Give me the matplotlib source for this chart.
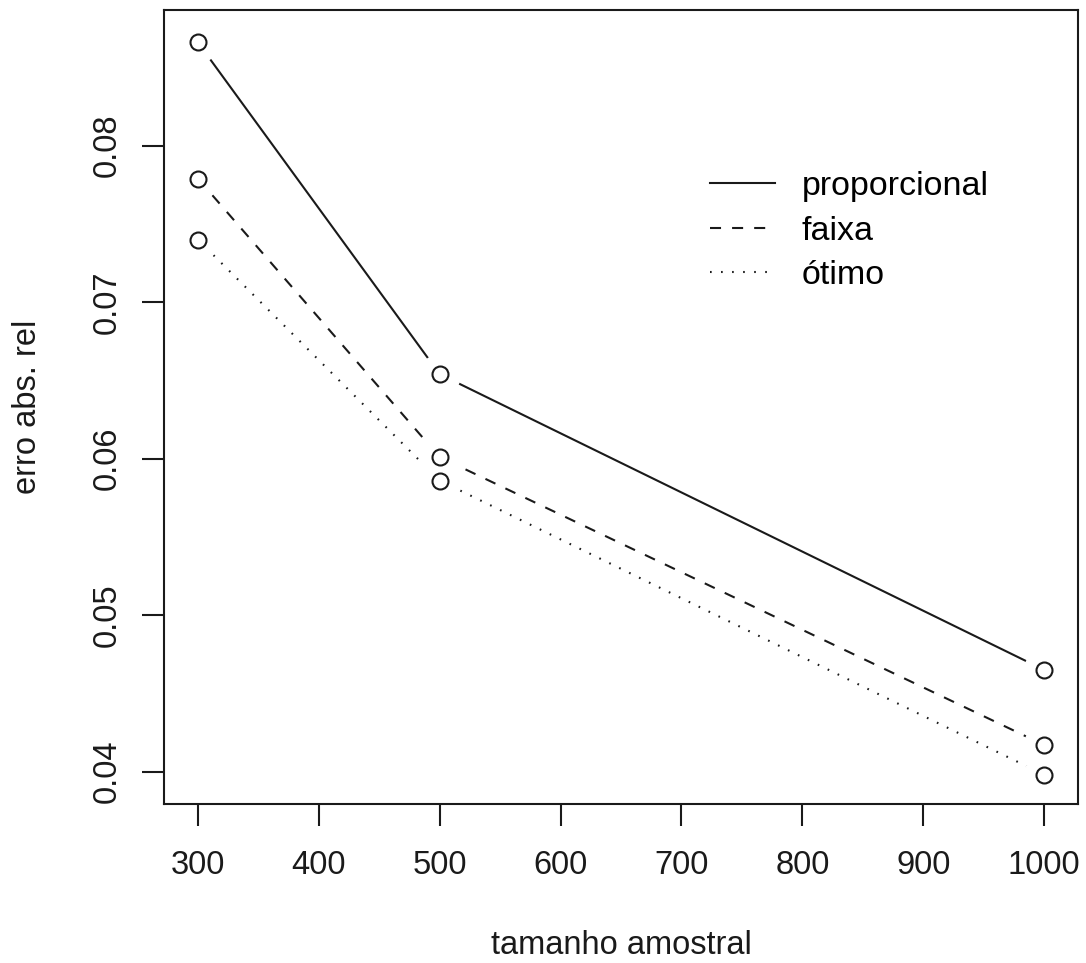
import matplotlib
matplotlib.use("Agg")
import matplotlib.pyplot as plt

plt.rcParams['font.family'] = ['Liberation Sans', 'DejaVu Sans']

tamanho = [300, 500, 1000]
proporcional = [0.0866, 0.0654, 0.0465]
faixa = [0.0779, 0.0601, 0.0417]
otimo = [0.0740, 0.0586, 0.0398]
series = [("proporcional", proporcional, "-"),
          ("faixa", faixa, (0, (5.3, 5.3))),
          ("ótimo", otimo, (0, (0.8, 4.5)))]
xticks = [300, 400, 500, 600, 700, 800, 900, 1000]
yticks = [0.04, 0.05, 0.06, 0.07, 0.08]

fig = plt.figure(figsize=(10.86, 9.63), dpi=100)
ax = fig.add_axes([164/1086, 1-804/963, (1078-164)/1086, (804-10)/963])

lw = 1.5
col = '#1a1a1a'
handles = []
for name, vals, ls in series:
    h, = ax.plot(tamanho, vals, color=col, lw=lw, linestyle=ls, label=name, zorder=2)
    handles.append(h)
for name, vals, ls in series:
    ax.plot(tamanho, vals, linestyle='none', marker='o', ms=29, mfc='white', mec='white', zorder=3)
for name, vals, ls in series:
    ax.plot(tamanho, vals, linestyle='none', marker='o', ms=11.5, mfc='none', mec=col, mew=1.5, zorder=4)

ax.set_xlim(272, 1028)
ax.set_ylim(0.03793, 0.08867)
ax.set_xticks(xticks)
ax.set_xticklabels([str(t) for t in xticks])
ax.set_yticks(yticks)
ax.set_yticklabels([f"{t:.2f}" for t in yticks], rotation=90, va='center')
ax.tick_params(axis='both', length=16, width=lw, colors=col, labelsize=23.5, direction='out')
ax.tick_params(axis='x', pad=17)
ax.tick_params(axis='y', pad=14)
for s in ax.spines.values():
    s.set_linewidth(lw)
    s.set_color(col)

fig.text(621/1086, 1-945/963, "tamanho amostral", ha='center', va='center', fontsize=23.5, color=col)
fig.text(28/1086, 1-407/963, "erro abs. rel", ha='center', va='center', rotation=90, fontsize=23.5, color=col)

ax.legend(handles=handles, loc='upper left', bbox_to_anchor=(710/1086, 1-171/963),
          bbox_transform=fig.transFigure, frameon=False, fontsize=24.5,
          handlelength=1.9, handletextpad=0.8, labelspacing=0.4, borderpad=0, borderaxespad=0)

fig.savefig("out.png", dpi=100)
